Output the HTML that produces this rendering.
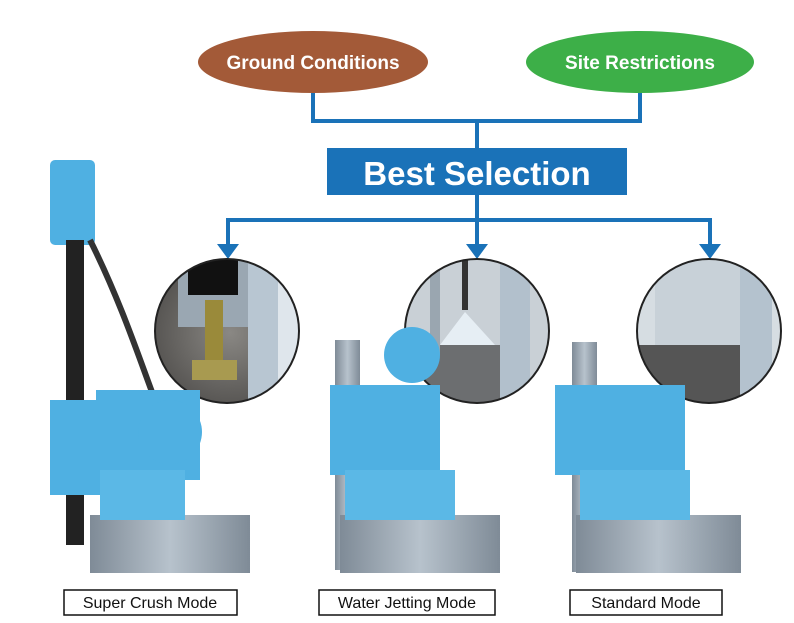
<!DOCTYPE html>
<html><head><meta charset="utf-8"><style>
body{margin:0;background:#fff}
svg{display:block}
text{font-family:"Liberation Sans",Arial,sans-serif}
</style></head><body>
<svg width="794" height="623" viewBox="0 0 794 623" xmlns="http://www.w3.org/2000/svg">
<defs>
<radialGradient id="soil" cx="50%" cy="50%" r="60%"><stop offset="0" stop-color="#8a8884"/><stop offset="1" stop-color="#4a4846"/></radialGradient>
<linearGradient id="pile" x1="0" x2="1"><stop offset="0" stop-color="#7f8b97"/><stop offset=".5" stop-color="#b7c2cc"/><stop offset="1" stop-color="#7f8b97"/></linearGradient>
<clipPath id="c1"><circle cx="227" cy="331" r="72"/></clipPath>
<clipPath id="c2"><circle cx="477" cy="331" r="72"/></clipPath>
<clipPath id="c3"><circle cx="709" cy="331" r="72"/></clipPath>
</defs>
<ellipse cx="313" cy="62" rx="115" ry="31" fill="#a35a38"/>
<text x="313" y="69" text-anchor="middle" fill="#fff" font-weight="bold" font-size="19">Ground Conditions</text>
<ellipse cx="640" cy="62" rx="114" ry="31" fill="#3daf48"/>
<text x="640" y="69" text-anchor="middle" fill="#fff" font-weight="bold" font-size="19">Site Restrictions</text>
<g stroke="#1a72b8" stroke-width="4" fill="none">
<path d="M313 93V121H640V93"/>
<path d="M477 121V148"/>
<path d="M477 195V220"/>
<path d="M228 248V220H710V248"/>
<path d="M477 220V248"/>
</g>
<g fill="#1a72b8">
<path d="M217 244h22l-11 15z"/><path d="M466 244h22l-11 15z"/><path d="M699 244h22l-11 15z"/>
</g>
<rect x="327" y="148" width="300" height="47" fill="#1a72b8"/>
<text x="477" y="185" text-anchor="middle" fill="#fff" font-weight="bold" font-size="33">Best Selection</text>
<!-- circle 1 -->
<g clip-path="url(#c1)">
<rect x="150" y="255" width="160" height="155" fill="url(#soil)"/>
<rect x="178" y="255" width="70" height="72" fill="#9aa7b2"/>
<rect x="188" y="255" width="50" height="40" fill="#111"/>
<rect x="248" y="255" width="30" height="155" fill="#b8c6d2"/>
<rect x="278" y="255" width="30" height="155" fill="#dfe6ec"/>
<rect x="205" y="300" width="18" height="70" fill="#9a8a3a"/>
<rect x="192" y="360" width="45" height="20" fill="#a89a50"/>
</g>
<circle cx="227" cy="331" r="72" fill="none" stroke="#222" stroke-width="2"/>
<!-- circle 2 -->
<g clip-path="url(#c2)">
<rect x="400" y="255" width="160" height="155" fill="#c9d0d6"/>
<rect x="420" y="345" width="80" height="60" fill="#6c6e70"/>
<rect x="500" y="255" width="30" height="155" fill="#b2c0cc"/>
<rect x="430" y="255" width="10" height="100" fill="#9aa6b0"/>
<rect x="462" y="255" width="6" height="55" fill="#333"/>
<path d="M465 312 L440 345 H495 Z" fill="#e6eef4"/>
</g>
<circle cx="477" cy="331" r="72" fill="none" stroke="#222" stroke-width="2"/>
<!-- circle 3 -->
<g clip-path="url(#c3)">
<rect x="635" y="255" width="150" height="155" fill="#d6dde2"/>
<rect x="635" y="345" width="105" height="60" fill="#555"/>
<rect x="740" y="255" width="32" height="155" fill="#b4c2ce"/>
<rect x="655" y="255" width="85" height="90" fill="#c8d1d8"/>
</g>
<circle cx="709" cy="331" r="72" fill="none" stroke="#222" stroke-width="2"/>
<!-- machine 1 -->
<rect x="50" y="160" width="45" height="85" fill="#4fb0e2" rx="5"/>
<rect x="66" y="240" width="18" height="305" fill="#222"/>
<path d="M90 240 C120 300 140 360 152 392" stroke="#333" stroke-width="6" fill="none"/>
<rect x="90" y="515" width="160" height="58" fill="url(#pile)"/>
<rect x="50" y="400" width="50" height="95" fill="#4fb0e2"/>
<rect x="96" y="390" width="104" height="90" fill="#4fb0e2"/>
<circle cx="170" cy="432" r="32" fill="#4fb0e2"/>
<rect x="100" y="470" width="85" height="50" fill="#5bb8e6"/>
<!-- machine 2 -->
<rect x="335" y="340" width="25" height="230" fill="url(#pile)"/>
<rect x="340" y="515" width="160" height="58" fill="url(#pile)"/>
<circle cx="412" cy="355" r="28" fill="#4fb0e2"/>
<rect x="330" y="385" width="110" height="90" fill="#4fb0e2"/>
<rect x="345" y="470" width="110" height="50" fill="#5bb8e6"/>
<!-- machine 3 -->
<rect x="572" y="342" width="25" height="230" fill="url(#pile)"/>
<rect x="576" y="515" width="165" height="58" fill="url(#pile)"/>
<rect x="555" y="385" width="130" height="90" fill="#4fb0e2"/>
<rect x="580" y="470" width="110" height="50" fill="#5bb8e6"/>
<g fill="#fff" stroke="#111" stroke-width="1.5">
<rect x="64" y="590" width="173" height="25"/>
<rect x="319" y="590" width="176" height="25"/>
<rect x="570" y="590" width="152" height="25"/>
</g>
<g font-size="16" text-anchor="middle" fill="#111">
<text x="150" y="608">Super Crush Mode</text>
<text x="407" y="608">Water Jetting Mode</text>
<text x="646" y="608">Standard Mode</text>
</g>
</svg>
</body></html>
